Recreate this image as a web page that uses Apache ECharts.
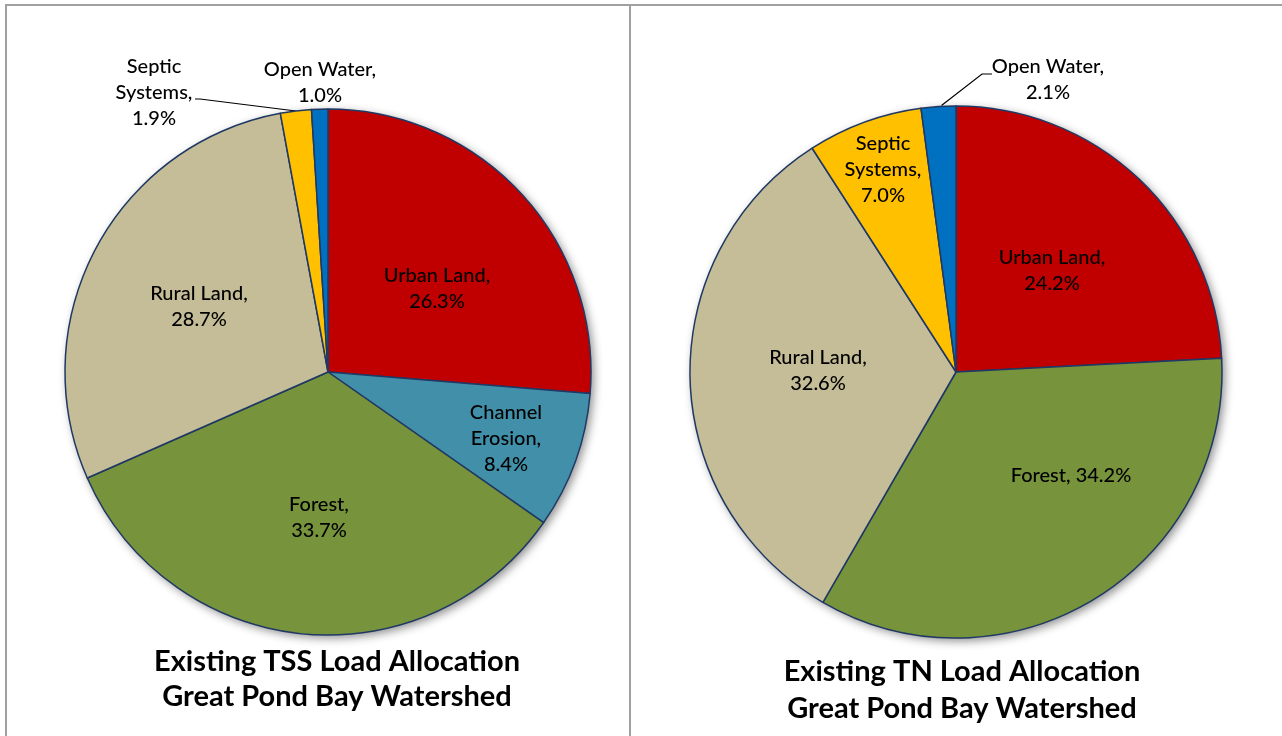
<!DOCTYPE html>
<html><head><meta charset="utf-8">
<script src="https://cdn.jsdelivr.net/npm/echarts@6/dist/echarts.min.js"></script>
<style>html,body{margin:0;padding:0;background:#fff}#c{width:1282px;height:736px}</style>
</head><body><div id="c"></div>
<script>
// ---- data ----
const categoriesTSS = ['Urban Land', 'Channel Erosion', 'Forest', 'Rural Land', 'Septic Systems', 'Open Water'];
const valuesTSS = [26.3, 8.4, 33.7, 28.7, 1.9, 1.0];
const categoriesTN = ['Urban Land', 'Forest', 'Rural Land', 'Septic Systems', 'Open Water'];
const valuesTN = [24.2, 34.2, 32.6, 7.0, 2.1];
const titleTSS = ['Existing TSS Load Allocation', 'Great Pond Bay Watershed'];
const titleTN = ['Existing TN Load Allocation', 'Great Pond Bay Watershed'];

// ---- styles ----
const FONT = 'Lato';
const colorMap = {
  'Urban Land': '#C00000', 'Channel Erosion': '#418FA8', 'Forest': '#77933C',
  'Rural Land': '#C4BD97', 'Septic Systems': '#FFC000', 'Open Water': '#0070C0'
};
const wrapNames = { 'Channel Erosion': 'Channel\nErosion', 'Septic Systems': 'Septic\nSystems' };
const BORDER = '#1F3864';

// label placement: offset of label centre from pie centre (px)
const pies = [
  {
    cats: categoriesTSS, vals: valuesTSS, cx: 328, cy: 372, r: 263,
    title: titleTSS, titleX: 337, titleTop: 644, titleLH: 35,
    labels: {
      'Urban Land': { dx: 109, dy: -83 },
      'Channel Erosion': { dx: 178, dy: 67 },
      'Forest': { dx: -9, dy: 146 },
      'Rural Land': { dx: -129, dy: -65 },
      'Septic Systems': { dx: -174, dy: -279, outside: true,
        line: (x, y, ax, ay) => [[ax, ay], [x + 46, y + 6], [x + 41, y + 6]] },
      'Open Water': { dx: -8, dy: -289, outside: true }
    }
  },
  {
    cats: categoriesTN, vals: valuesTN, cx: 956, cy: 372, r: 266,
    title: titleTN, titleX: 962, titleTop: 653, titleLH: 37,
    labels: {
      'Urban Land': { dx: 96, dy: -101 },
      'Forest': { dx: 115, dy: 104, oneLine: true },
      'Rural Land': { dx: -138, dy: -1 },
      'Septic Systems': { dx: -73, dy: -202 },
      'Open Water': { dx: 92, dy: -292, outside: true,
        line: (x, y, ax, ay) => [[ax + 3, ay - 1], [x - 66, y - 6], [x - 56, y - 6]] }
    }
  }
];

const series = [];
const titles = [];
pies.forEach((pie, pi) => {
  const sum = pie.vals.reduce((a, b) => a + b, 0);
  const mids = [];
  let cum = 0;
  pie.vals.forEach(v => { mids.push((cum + v / 2) / sum * 360); cum += v; });

  // shadow disc underneath
  series.push({
    type: 'pie', center: [pie.cx, pie.cy], radius: pie.r, silent: true,
    label: { show: false }, labelLine: { show: false }, animation: false,
    itemStyle: { color: '#fff', shadowBlur: 10, shadowColor: 'rgba(0,0,0,0.45)', shadowOffsetX: 3, shadowOffsetY: 3 },
    data: [{ value: 1, name: '_bg' + pi }]
  });

  series.push({
    type: 'pie', center: [pie.cx, pie.cy], radius: pie.r,
    startAngle: 90, clockwise: true, avoidLabelOverlap: false, animation: false,
    itemStyle: { borderColor: BORDER, borderWidth: 1.5 },
    label: {
      fontFamily: FONT, fontSize: 20, fontWeight: 500, lineHeight: 26, color: '#000',
      formatter: p => {
        const spec = pie.labels[p.name];
        const nm = spec.oneLine ? p.name : (wrapNames[p.name] || p.name);
        return nm + ',' + (spec.oneLine ? ' ' : '\n') + p.value.toFixed(1) + '%';
      }
    },
    labelLayout: params => {
      const name = pie.cats[params.dataIndex];
      const spec = pie.labels[name];
      const x = pie.cx + spec.dx;
      const y = pie.cy + spec.dy;
      const out = { x: x, y: y, align: 'center', verticalAlign: 'middle' };
      if (spec.line) {
        const m = mids[params.dataIndex] * Math.PI / 180;
        const ax = pie.cx + pie.r * Math.sin(m);
        const ay = pie.cy - pie.r * Math.cos(m);
        out.labelLinePoints = spec.line(x, y, ax, ay);
      }
      return out;
    },
    data: pie.cats.map((c, i) => {
      const spec = pie.labels[c];
      return {
        name: c, value: pie.vals[i],
        itemStyle: { color: colorMap[c] },
        label: { position: spec.outside ? 'outside' : 'inside' },
        labelLine: { show: !!spec.line, length: 10, length2: 10, smooth: false, lineStyle: { color: '#000', width: 1.2 } }
      };
    })
  });

  titles.push({
    text: pie.title.join('\n'), left: pie.titleX, top: pie.titleTop, textAlign: 'center', padding: 0,
    textStyle: { fontFamily: FONT, fontWeight: 'bold', fontSize: 29, lineHeight: pie.titleLH, color: '#000' }
  });
});

const chart = echarts.init(document.getElementById('c'), null, { renderer: 'canvas' });
chart.setOption({
  backgroundColor: '#ffffff',
  animation: false,
  title: titles,
  graphic: [
    { type: 'line', shape: { x1: 5, y1: 5, x2: 1282, y2: 5 }, style: { stroke: '#a0a0a0', lineWidth: 2 } },
    { type: 'line', shape: { x1: 6, y1: 5, x2: 6, y2: 736 }, style: { stroke: '#a0a0a0', lineWidth: 2 } },
    { type: 'line', shape: { x1: 630, y1: 5, x2: 630, y2: 736 }, style: { stroke: '#a0a0a0', lineWidth: 2 } }
  ],
  series: series
});
</script>
</body></html>
